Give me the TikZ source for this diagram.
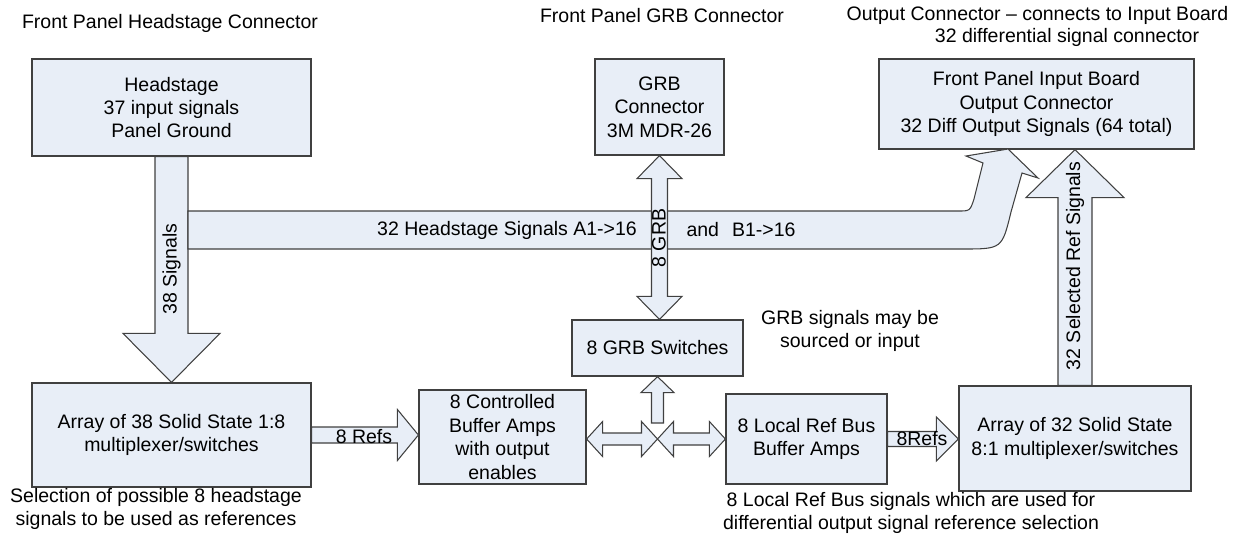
\documentclass[tikz,border=0pt]{standalone}
\usepackage{fontspec}
\setmainfont{Liberation Sans}
\usetikzlibrary{calc,positioning}
\definecolor{boxfill}{RGB}{232,238,247}
\definecolor{boxline}{RGB}{64,64,64}
\tikzstyle{blk} = [rectangle, draw=boxline, fill=boxfill, line width=0.7pt, align=center, inner sep=0pt]
\tikzstyle{barrow} = [draw=boxline, fill=boxfill, line width=0.6pt, line join=miter]
\tikzstyle{lbl} = [align=center, inner sep=0pt]
% block arrow: from, to, shaft half width, head half width, head length (px)
\newcommand{\blockarrow}[5]{%
  \coordinate (ba-h) at ($(#2)!#5*0.02cm!(#1)$);
  \filldraw[barrow] ($(#1)!#3*0.02cm!90:(#2)$) -- ($(ba-h)!#3*0.02cm!-90:(#1)$) -- ($(ba-h)!#4*0.02cm!-90:(#1)$) -- (#2) -- ($(ba-h)!#4*0.02cm!90:(#1)$) -- ($(ba-h)!#3*0.02cm!90:(#1)$) -- ($(#1)!#3*0.02cm!-90:(#2)$) -- cycle;
}
\newcommand{\blockdarrow}[5]{%
  \coordinate (bd-a) at ($(#1)!#5*0.02cm!(#2)$);
  \coordinate (bd-b) at ($(#2)!#5*0.02cm!(#1)$);
  \filldraw[barrow] (#1) -- ($(bd-a)!#4*0.02cm!90:(#2)$) -- ($(bd-a)!#3*0.02cm!90:(#2)$) -- ($(bd-b)!#3*0.02cm!-90:(#1)$) -- ($(bd-b)!#4*0.02cm!-90:(#1)$) -- (#2) -- ($(bd-b)!#4*0.02cm!90:(#1)$) -- ($(bd-b)!#3*0.02cm!90:(#1)$) -- ($(bd-a)!#3*0.02cm!-90:(#2)$) -- ($(bd-a)!#4*0.02cm!-90:(#2)$) -- cycle;
}

\begin{document}
\begin{tikzpicture}[x=0.02cm, y=-0.02cm, font=\fontsize{11.1}{13.3}\selectfont]
    \useasboundingbox (0,0) rectangle (1248,539);

    \node (hs) [blk, minimum width=5.58cm, minimum height=1.94cm] at (171.5,107.5) {Headstage\\37 input signals\\Panel Ground};
    \node (mux) [blk, minimum width=5.58cm, minimum height=2.08cm] at (171.5,435) {Array of 38 Solid State 1:8\\multiplexer/switches};
    \node (grb) [blk, minimum width=2.58cm, minimum height=1.92cm] at (659.5,107) {GRB\\Connector\\3M MDR-26};
    \node (sw) [blk, minimum width=3.42cm, minimum height=1.12cm] at (657.5,348) {8 GRB Switches};
    \node (buf) [blk, minimum width=3.34cm, minimum height=1.88cm] at (502.5,437) {8 Controlled\\Buffer Amps\\with output\\enables};
    \node (lref) [blk, minimum width=3.22cm, minimum height=1.80cm] at (806.5,439) {8 Local Ref Bus\\Buffer Amps};
    \node (sel) [blk, minimum width=4.64cm, minimum height=2.10cm] at (1075,438.5) {Array of 32 Solid State\\8:1 multiplexer/switches};
    \node (out) [blk, minimum width=6.30cm, minimum height=1.80cm] at (1036.5,104) {Front Panel Input Board\\Output Connector\\32 Diff Output Signals (64 total)};

    \node (hstitle) [lbl] at (170,23) {Front Panel Headstage Connector};
    \node (grbtitle) [lbl] at (662,16) {Front Panel GRB Connector};
    \node (outtitle) [lbl] at (1037.5,15) {Output Connector – connects to Input Board};
    \node (outtitle2) [lbl] at (1067,37) {32 differential signal connector};
    \node (muxnote) [lbl] at (156,509) {Selection of possible 8 headstage\\signals to be used as references};
    \node (grbnote) [lbl] at (850,331) {GRB signals may be\\sourced or input};
    \node (lrefnote) [lbl] at (911,513) {8 Local Ref Bus signals which are used for\\differential output signal reference selection};

    \coordinate (hub) at (sw.south |- lref.west);
    \coordinate (hubtop) at ($(hub)+(0,-16)$);
    \coordinate (bufr) at (buf.east |- hub);
    \coordinate (refb) at (buf.west |- mux.east);
    \coordinate (selw) at (sel.west |- lref.east);
    \coordinate (swn) at (grb.south |- sw.north);
    \coordinate (outs) at (sel.north |- out.south);

    \blockarrow{hs.south}{mux.north}{16.5}{48.5}{49}
    \filldraw[barrow] (188,211) -- (958,211) .. controls (970,211) .. (974,199) -- (983,163) -- (966,156) -- (1008,149) -- (1038,178) -- (1022,173) -- (1011,212) .. controls (1002,249) .. (962,249) -- (188,249) -- cycle;
    \blockdarrow{grb.south}{swn}{8}{22.5}{23}
    \blockarrow{mux.east}{refb}{8}{25.5}{21}
    \blockarrow{hubtop}{sw.south}{6}{16.5}{16}
    \blockdarrow{bufr}{hub}{6}{17.5}{16}
    \blockdarrow{hub}{lref.west}{6}{17.5}{16}
    \blockarrow{lref.east}{selw}{7.5}{22}{22}
    \blockarrow{sel.north}{outs}{17}{49}{48}

    \node (hslbl) [lbl, rotate=90] at (171.5,269) {38 Signals};
    \node (hsig) [lbl] at (507,230) {32 Headstage Signals A1->16};
    \node (bsig) [lbl] at (741,230) {and\hspace{0.26cm}B1->16};
    \node (grblbl) [lbl, rotate=90] at (659,238) {8 GRB};
    \node (reflbl) [lbl] at (364,437) {8 Refs};
    \node (lreflbl) [lbl] at (922,439) {8Refs};
    \node (sellbl) [lbl, rotate=90] at (1075,266) {32 Selected Ref Signals};
\end{tikzpicture}
\end{document}
